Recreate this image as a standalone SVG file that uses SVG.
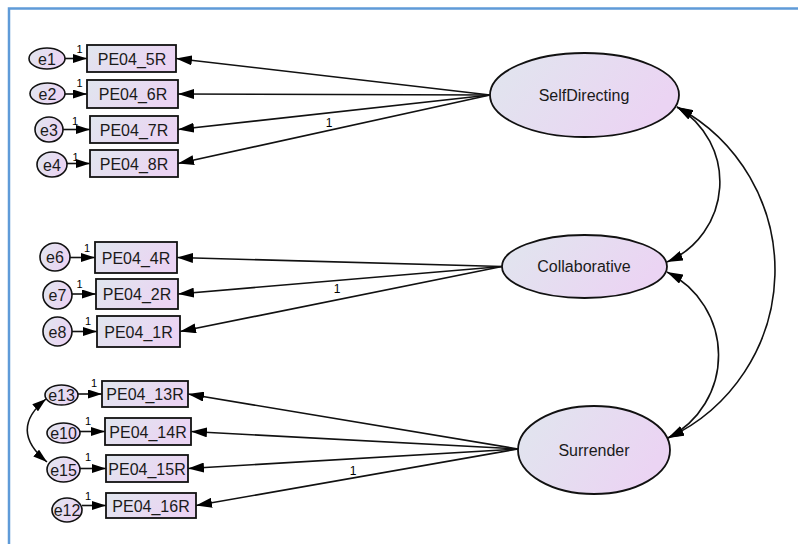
<svg xmlns="http://www.w3.org/2000/svg" width="798" height="544" viewBox="0 0 798 544">
  <defs>
    <linearGradient id="fillGrad" x1="0" y1="0" x2="1" y2="0.35">
      <stop offset="0" stop-color="#e0e6ee"/>
      <stop offset="1" stop-color="#ebd4f3"/>
    </linearGradient>
    <marker id="arrow" viewBox="0 0 16 10" refX="16" refY="5" markerWidth="16" markerHeight="10" markerUnits="userSpaceOnUse" orient="auto-start-reverse">
      <path d="M0,0 L16,5 L0,10 Z" fill="#000"/>
    </marker>
    <marker id="arrowSmall" viewBox="0 0 14 9" refX="14" refY="4.5" markerWidth="14" markerHeight="9" markerUnits="userSpaceOnUse" orient="auto-start-reverse">
      <path d="M0,0 L14,4.5 L0,9 Z" fill="#000"/>
    </marker>
  </defs>
  <style>
    .frame { stroke: #5f9bd8; stroke-width: 2.5; fill: none; }
    .obs { fill: url(#fillGrad); stroke: #111; stroke-width: 1.8; }
    .lat { fill: url(#fillGrad); stroke: #111; stroke-width: 1.8; }
    .err { fill: url(#fillGrad); stroke: #111; stroke-width: 1.6; }
    .lbl { font-family: "Liberation Sans", Arial, sans-serif; font-size: 16px; fill: #1a1a1a; text-anchor: middle; }
    .one { font-family: "Liberation Sans", Arial, sans-serif; font-size: 11px; fill: #000; text-anchor: middle; }
    .load { stroke: #111; stroke-width: 1.6; fill: none; marker-end: url(#arrow); }
    .erra { stroke: #111; stroke-width: 1.6; fill: none; marker-end: url(#arrowSmall); }
    .cov { stroke: #111; stroke-width: 1.6; fill: none; marker-start: url(#arrow); marker-end: url(#arrow); }
    .covs { stroke: #111; stroke-width: 1.6; fill: none; marker-start: url(#arrowSmall); marker-end: url(#arrowSmall); }
  </style>

  <rect width="798" height="544" fill="#fff"/>
  <path class="frame" d="M9,544 L9,8.5 L798,8.5"/>

  <!-- connectors -->
  <g id="connectors">
    <!-- factor loadings: SelfDirecting -->
    <line class="load" x1="490" y1="95" x2="176" y2="58.5"/>
    <line class="load" x1="490" y1="95" x2="178" y2="94"/>
    <line class="load" x1="490" y1="95" x2="178" y2="129.5"/>
    <line class="load" x1="490" y1="95" x2="178" y2="163.5"/>
    <!-- factor loadings: Collaborative -->
    <line class="load" x1="502" y1="266.5" x2="177" y2="257.5"/>
    <line class="load" x1="502" y1="266.5" x2="178" y2="294"/>
    <line class="load" x1="502" y1="266.5" x2="180" y2="331.5"/>
    <!-- factor loadings: Surrender -->
    <line class="load" x1="518" y1="449" x2="188" y2="394"/>
    <line class="load" x1="518" y1="449" x2="191" y2="431.5"/>
    <line class="load" x1="518" y1="449" x2="188" y2="468.5"/>
    <line class="load" x1="518" y1="449" x2="196" y2="505.5"/>

    <!-- error terms -->
    <line class="erra" x1="65" y1="58.5" x2="87" y2="58.5"/>
    <line class="erra" x1="65" y1="94" x2="87" y2="94"/>
    <line class="erra" x1="63" y1="129.5" x2="90" y2="129.5"/>
    <line class="erra" x1="67" y1="163.5" x2="90" y2="163.5"/>
    <line class="erra" x1="70" y1="257.5" x2="95" y2="257.5"/>
    <line class="erra" x1="72" y1="294" x2="96" y2="294"/>
    <line class="erra" x1="72" y1="331.5" x2="97" y2="331.5"/>
    <line class="erra" x1="78" y1="394" x2="102" y2="394"/>
    <line class="erra" x1="80" y1="431.5" x2="105" y2="431.5"/>
    <line class="erra" x1="80" y1="468.5" x2="106" y2="468.5"/>
    <line class="erra" x1="82" y1="505.5" x2="106" y2="505.5"/>

    <!-- covariances -->
    <path class="covs" d="M46,399 Q8,430 47,462"/>
    <path class="cov" d="M677,107 A87,87 0 0 1 667,262"/>
    <path class="cov" d="M667,272 A93,93 0 0 1 668,438"/>
    <path class="cov" d="M677,107 A185,185 0 0 1 668,438"/>

    <!-- fixed parameters -->
    <text class="one" x="79.5" y="53">1</text>
    <text class="one" x="79.5" y="87">1</text>
    <text class="one" x="75" y="125">1</text>
    <text class="one" x="75.5" y="161">1</text>
    <text class="one" x="87" y="252">1</text>
    <text class="one" x="79.5" y="288">1</text>
    <text class="one" x="88" y="325">1</text>
    <text class="one" x="94" y="387">1</text>
    <text class="one" x="88" y="425">1</text>
    <text class="one" x="88" y="461">1</text>
    <text class="one" x="88" y="500">1</text>
    <text class="one" x="329" y="127" style="font-size:12px">1</text>
    <text class="one" x="337" y="293" style="font-size:12px">1</text>
    <text class="one" x="353" y="475" style="font-size:12px">1</text>
  </g>

  <!-- latent factors -->
  <g id="SelfDirecting">
    <ellipse class="lat" cx="584.5" cy="95" rx="94.5" ry="42"/>
    <text class="lbl" x="584" y="101">SelfDirecting</text>
  </g>
  <g id="Collaborative">
    <ellipse class="lat" cx="584.5" cy="266.5" rx="82.5" ry="31.5"/>
    <text class="lbl" x="584" y="272">Collaborative</text>
  </g>
  <g id="Surrender">
    <ellipse class="lat" cx="594" cy="450" rx="76" ry="44"/>
    <text class="lbl" x="594" y="456">Surrender</text>
  </g>

  <!-- observed indicators -->
  <g id="PE04_5R"><rect class="obs" x="87" y="45" width="89" height="27"/><text class="lbl" x="132" y="64.5">PE04_5R</text></g>
  <g id="PE04_6R"><rect class="obs" x="87" y="80" width="91" height="28"/><text class="lbl" x="133" y="100">PE04_6R</text></g>
  <g id="PE04_7R"><rect class="obs" x="90" y="116" width="88" height="27"/><text class="lbl" x="134" y="135.5">PE04_7R</text></g>
  <g id="PE04_8R"><rect class="obs" x="90" y="150" width="88" height="27"/><text class="lbl" x="134" y="169.5">PE04_8R</text></g>
  <g id="PE04_4R"><rect class="obs" x="95" y="242" width="82" height="31"/><text class="lbl" x="136" y="263.5">PE04_4R</text></g>
  <g id="PE04_2R"><rect class="obs" x="96" y="279" width="82" height="30"/><text class="lbl" x="137" y="300">PE04_2R</text></g>
  <g id="PE04_1R"><rect class="obs" x="97" y="316" width="83" height="31"/><text class="lbl" x="138.5" y="337.5">PE04_1R</text></g>
  <g id="PE04_13R"><rect class="obs" x="102" y="381" width="86" height="26"/><text class="lbl" x="145" y="400">PE04_13R</text></g>
  <g id="PE04_14R"><rect class="obs" x="105" y="418" width="86" height="27"/><text class="lbl" x="148" y="437.5">PE04_14R</text></g>
  <g id="PE04_15R"><rect class="obs" x="106" y="455" width="82" height="27"/><text class="lbl" x="147" y="474.5">PE04_15R</text></g>
  <g id="PE04_16R"><rect class="obs" x="106" y="493" width="90" height="25"/><text class="lbl" x="151" y="511.5">PE04_16R</text></g>

  <!-- error terms -->
  <g id="e1"><ellipse class="err" cx="47" cy="58.5" rx="18" ry="10.5"/><text class="lbl" x="47" y="64.5">e1</text></g>
  <g id="e2"><ellipse class="err" cx="47.5" cy="93.5" rx="17.5" ry="10.5"/><text class="lbl" x="47.5" y="99.5">e2</text></g>
  <g id="e3"><ellipse class="err" cx="49" cy="129.5" rx="14" ry="12.5"/><text class="lbl" x="49" y="135.5">e3</text></g>
  <g id="e4"><ellipse class="err" cx="52" cy="164.5" rx="15" ry="12.5"/><text class="lbl" x="52" y="170.5">e4</text></g>
  <g id="e6"><ellipse class="err" cx="55" cy="257" rx="15" ry="14"/><text class="lbl" x="55" y="263">e6</text></g>
  <g id="e7"><ellipse class="err" cx="57.5" cy="295" rx="14.5" ry="14"/><text class="lbl" x="57.5" y="301">e7</text></g>
  <g id="e8"><ellipse class="err" cx="57.5" cy="331.5" rx="14.5" ry="14.5"/><text class="lbl" x="57.5" y="337.5">e8</text></g>
  <g id="e13"><ellipse class="err" cx="61.5" cy="395" rx="16.5" ry="10"/><text class="lbl" x="61.5" y="401">e13</text></g>
  <g id="e10"><ellipse class="err" cx="63.5" cy="433" rx="16.5" ry="10"/><text class="lbl" x="63.5" y="439">e10</text></g>
  <g id="e15"><ellipse class="err" cx="63.5" cy="469.5" rx="16.5" ry="12.5"/><text class="lbl" x="63.5" y="475.5">e15</text></g>
  <g id="e12"><ellipse class="err" cx="67" cy="510" rx="15" ry="12"/><text class="lbl" x="67" y="516">e12</text></g>
</svg>
